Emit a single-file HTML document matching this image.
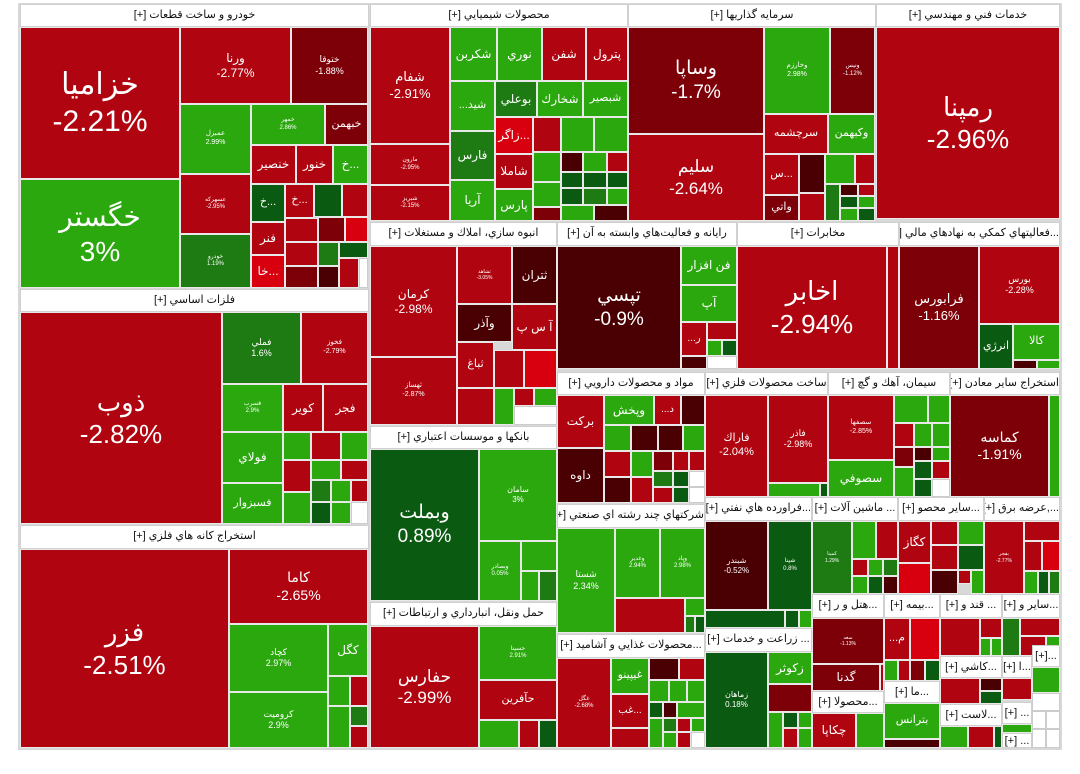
<!DOCTYPE html>
<html><head><meta charset="utf-8"><style>
body{margin:0;width:1080px;height:774px;background:#fff;position:relative;overflow:hidden;font-family:"Liberation Sans","DejaVu Sans",sans-serif}
.t{position:absolute;box-sizing:border-box;border:1px solid #e8e8e8;color:#fff;display:flex;flex-direction:column;align-items:center;justify-content:center;text-align:center;overflow:hidden;line-height:1.25;white-space:nowrap}
.h{position:absolute;box-sizing:border-box;background:#fff;border:1px solid #d0d0d0;color:#111;font-size:11px;text-align:center;line-height:20px;overflow:hidden;white-space:nowrap;direction:rtl}
.R{background:#b00510}.D{background:#7d0009}.V{background:#4a0003}.B{background:#d8000f}
.G{background:#2ca80f}.E{background:#1e7a12}.F{background:#0b5a12}.W{background:#fff;border-color:#ccc}
</style></head><body>
<div style="position:absolute;left:18px;top:3px;width:1044px;height:747px;background:#d8d8d8"></div>

<!-- خودرو -->
<div class="h" style="left:20px;top:4px;width:349px;height:23px">خودرو و ساخت قطعات [+]</div>
<div class="t R" style="left:20px;top:27px;width:160px;height:152px;font-size:30px"><div>خزاميا</div><div>-2.21%</div></div>
<div class="t G" style="left:20px;top:179px;width:160px;height:109px;font-size:28px"><div>خگستر</div><div>3%</div></div>
<div class="t R" style="left:180px;top:27px;width:111px;height:77px;font-size:12px"><div>ورنا</div><div>-2.77%</div></div>
<div class="t D" style="left:291px;top:27px;width:77px;height:77px;font-size:9px"><div>ختوقا</div><div>-1.88%</div></div>
<div class="t G" style="left:180px;top:104px;width:71px;height:70px;font-size:7px"><div>عمبزل</div><div>2.99%</div></div>
<div class="t G" style="left:251px;top:104px;width:74px;height:41px;font-size:6px"><div>خمهر</div><div>2.86%</div></div>
<div class="t D" style="left:325px;top:104px;width:43px;height:41px;font-size:11px">خبهمن</div>
<div class="t R" style="left:251px;top:145px;width:45px;height:39px;font-size:12px">خنصير</div>
<div class="t R" style="left:296px;top:145px;width:37px;height:39px;font-size:12px">خنور</div>
<div class="t G" style="left:333px;top:145px;width:35px;height:39px;font-size:12px">خ...</div>
<div class="t R" style="left:180px;top:174px;width:71px;height:60px;font-size:6px"><div>عسهرکه</div><div>-2.95%</div></div>
<div class="t E" style="left:180px;top:234px;width:71px;height:54px;font-size:6px"><div>خودرو</div><div>1.19%</div></div>
<div class="t F" style="left:251px;top:184px;width:34px;height:38px;font-size:11px">خ...</div>
<div class="t R" style="left:285px;top:184px;width:29px;height:34px;font-size:11px">خ...</div>
<div class="t F" style="left:314px;top:184px;width:28px;height:33px"></div>
<div class="t R" style="left:342px;top:184px;width:26px;height:33px"></div>
<div class="t R" style="left:251px;top:222px;width:34px;height:33px;font-size:12px">فنر</div>
<div class="t B" style="left:251px;top:255px;width:34px;height:33px;font-size:12px">خا...</div>
<div class="t R" style="left:285px;top:218px;width:33px;height:24px"></div>
<div class="t D" style="left:318px;top:217px;width:27px;height:25px"></div>
<div class="t B" style="left:345px;top:217px;width:23px;height:25px"></div>
<div class="t R" style="left:285px;top:242px;width:33px;height:24px"></div>
<div class="t D" style="left:285px;top:266px;width:33px;height:22px"></div>
<div class="t E" style="left:318px;top:242px;width:21px;height:24px"></div>
<div class="t F" style="left:339px;top:242px;width:29px;height:16px"></div>
<div class="t V" style="left:318px;top:266px;width:21px;height:22px"></div>
<div class="t R" style="left:339px;top:258px;width:20px;height:30px"></div>
<div class="t W" style="left:359px;top:258px;width:9px;height:30px"></div>

<!-- شيميايي -->
<div class="h" style="left:370px;top:4px;width:258px;height:23px">محصولات شيميايي [+]</div>
<div class="t R" style="left:370px;top:27px;width:80px;height:117px;font-size:13px"><div>شفام</div><div>-2.91%</div></div>
<div class="t R" style="left:370px;top:144px;width:80px;height:41px;font-size:6px"><div>مارون</div><div>-2.95%</div></div>
<div class="t R" style="left:370px;top:185px;width:80px;height:36px;font-size:6px"><div>شبريز</div><div>-2.15%</div></div>
<div class="t G" style="left:450px;top:27px;width:47px;height:54px;font-size:12px">شکربن</div>
<div class="t G" style="left:497px;top:27px;width:45px;height:54px;font-size:12px">نوري</div>
<div class="t R" style="left:542px;top:27px;width:44px;height:54px;font-size:12px">شفن</div>
<div class="t R" style="left:586px;top:27px;width:42px;height:54px;font-size:12px">پترول</div>
<div class="t G" style="left:450px;top:81px;width:45px;height:50px;font-size:11px">...شيد</div>
<div class="t E" style="left:495px;top:81px;width:42px;height:36px;font-size:12px">بوعلي</div>
<div class="t G" style="left:537px;top:81px;width:46px;height:36px;font-size:12px">شخارك</div>
<div class="t G" style="left:583px;top:81px;width:45px;height:36px;font-size:11px">شبصير</div>
<div class="t E" style="left:450px;top:131px;width:45px;height:49px;font-size:12px">فارس</div>
<div class="t G" style="left:450px;top:180px;width:45px;height:41px;font-size:12px">آريا</div>
<div class="t B" style="left:495px;top:117px;width:38px;height:37px;font-size:12px">زاگر...</div>
<div class="t R" style="left:495px;top:154px;width:38px;height:35px;font-size:12px">شاملا</div>
<div class="t G" style="left:495px;top:189px;width:38px;height:32px;font-size:12px">پارس</div>
<div class="t R" style="left:533px;top:117px;width:28px;height:35px"></div>
<div class="t G" style="left:561px;top:117px;width:33px;height:35px"></div>
<div class="t G" style="left:594px;top:117px;width:34px;height:35px"></div>
<div class="t G" style="left:533px;top:152px;width:28px;height:30px"></div>
<div class="t V" style="left:561px;top:152px;width:22px;height:20px"></div>
<div class="t G" style="left:583px;top:152px;width:24px;height:20px"></div>
<div class="t R" style="left:607px;top:152px;width:21px;height:20px"></div>
<div class="t F" style="left:561px;top:172px;width:22px;height:16px"></div>
<div class="t F" style="left:583px;top:172px;width:24px;height:16px"></div>
<div class="t F" style="left:607px;top:172px;width:21px;height:16px"></div>
<div class="t G" style="left:533px;top:182px;width:28px;height:25px"></div>
<div class="t D" style="left:533px;top:207px;width:28px;height:14px"></div>
<div class="t F" style="left:561px;top:188px;width:22px;height:17px"></div>
<div class="t E" style="left:583px;top:188px;width:24px;height:17px"></div>
<div class="t G" style="left:607px;top:188px;width:21px;height:17px"></div>
<div class="t G" style="left:561px;top:205px;width:33px;height:16px"></div>
<div class="t V" style="left:594px;top:205px;width:34px;height:16px"></div>

<!-- سرمايه -->
<div class="h" style="left:628px;top:4px;width:248px;height:23px">سرمايه گذاريها [+]</div>
<div class="t D" style="left:628px;top:27px;width:136px;height:107px;font-size:19px"><div>وساپا</div><div>-1.7%</div></div>
<div class="t R" style="left:628px;top:134px;width:136px;height:87px;font-size:17px"><div>سليم</div><div>-2.64%</div></div>
<div class="t G" style="left:764px;top:27px;width:66px;height:87px;font-size:7px"><div>وخارزم</div><div>2.98%</div></div>
<div class="t D" style="left:830px;top:27px;width:45px;height:87px;font-size:6px"><div>ونيس</div><div>-1.12%</div></div>
<div class="t R" style="left:764px;top:114px;width:64px;height:40px;font-size:11px">سرچشمه</div>
<div class="t G" style="left:828px;top:114px;width:47px;height:40px;font-size:11px">وكبهمن</div>
<div class="t R" style="left:764px;top:154px;width:35px;height:41px;font-size:11px">س...</div>
<div class="t D" style="left:764px;top:195px;width:35px;height:26px;font-size:11px">واتي</div>
<div class="t V" style="left:799px;top:154px;width:26px;height:39px"></div>
<div class="t R" style="left:799px;top:193px;width:26px;height:28px"></div>
<div class="t G" style="left:825px;top:154px;width:30px;height:30px"></div>
<div class="t R" style="left:855px;top:154px;width:20px;height:30px"></div>
<div class="t E" style="left:825px;top:184px;width:15px;height:37px"></div>
<div class="t V" style="left:840px;top:184px;width:18px;height:12px"></div>
<div class="t R" style="left:858px;top:184px;width:17px;height:12px"></div>
<div class="t F" style="left:840px;top:196px;width:18px;height:12px"></div>
<div class="t G" style="left:858px;top:196px;width:17px;height:12px"></div>
<div class="t G" style="left:840px;top:208px;width:18px;height:13px"></div>
<div class="t F" style="left:858px;top:208px;width:17px;height:13px"></div>

<!-- خدمات فني -->
<div class="h" style="left:876px;top:4px;width:184px;height:23px">خدمات فني و مهندسي [+]</div>
<div class="t R" style="left:876px;top:27px;width:184px;height:192px;font-size:26px"><div>رمپنا</div><div>-2.96%</div></div>

<!-- فلزات اساسي -->
<div class="h" style="left:20px;top:289px;width:349px;height:23px">فلزات اساسي [+]</div>
<div class="t R" style="left:20px;top:312px;width:202px;height:212px;font-size:26px"><div>ذوب</div><div>-2.82%</div></div>
<div class="t E" style="left:222px;top:312px;width:79px;height:72px;font-size:9px"><div>فملي</div><div>1.6%</div></div>
<div class="t R" style="left:301px;top:312px;width:67px;height:72px;font-size:7px"><div>فخوز</div><div>-2.79%</div></div>
<div class="t G" style="left:222px;top:384px;width:61px;height:48px;font-size:6px"><div>فسرب</div><div>2.9%</div></div>
<div class="t R" style="left:283px;top:384px;width:40px;height:48px;font-size:12px">كوير</div>
<div class="t R" style="left:323px;top:384px;width:45px;height:48px;font-size:12px">فجر</div>
<div class="t G" style="left:222px;top:432px;width:61px;height:51px;font-size:12px">فولاي</div>
<div class="t G" style="left:222px;top:483px;width:61px;height:41px;font-size:11px">فسبزوار</div>
<div class="t G" style="left:283px;top:432px;width:28px;height:28px"></div>
<div class="t R" style="left:311px;top:432px;width:30px;height:28px"></div>
<div class="t G" style="left:341px;top:432px;width:27px;height:28px"></div>
<div class="t R" style="left:283px;top:460px;width:28px;height:32px"></div>
<div class="t G" style="left:311px;top:460px;width:30px;height:20px"></div>
<div class="t R" style="left:341px;top:460px;width:27px;height:20px"></div>
<div class="t G" style="left:283px;top:492px;width:28px;height:32px"></div>
<div class="t E" style="left:311px;top:480px;width:20px;height:22px"></div>
<div class="t G" style="left:331px;top:480px;width:20px;height:22px"></div>
<div class="t R" style="left:351px;top:480px;width:17px;height:22px"></div>
<div class="t F" style="left:311px;top:502px;width:20px;height:22px"></div>
<div class="t G" style="left:331px;top:502px;width:20px;height:22px"></div>
<div class="t W" style="left:351px;top:502px;width:17px;height:22px"></div>

<!-- استخراج کانه -->
<div class="h" style="left:20px;top:525px;width:349px;height:24px">استخراج كانه هاي فلزي [+]</div>
<div class="t R" style="left:20px;top:549px;width:209px;height:199px;font-size:26px"><div>فزر</div><div>-2.51%</div></div>
<div class="t R" style="left:229px;top:549px;width:139px;height:75px;font-size:14px"><div>كاما</div><div>-2.65%</div></div>
<div class="t G" style="left:229px;top:624px;width:99px;height:68px;font-size:9px"><div>كچاد</div><div>2.97%</div></div>
<div class="t G" style="left:229px;top:692px;width:99px;height:56px;font-size:9px"><div>كروميت</div><div>2.9%</div></div>
<div class="t G" style="left:328px;top:624px;width:40px;height:52px;font-size:12px">كگل</div>
<div class="t G" style="left:328px;top:676px;width:22px;height:30px"></div>
<div class="t R" style="left:350px;top:676px;width:18px;height:30px"></div>
<div class="t G" style="left:328px;top:706px;width:22px;height:42px"></div>
<div class="t E" style="left:350px;top:706px;width:18px;height:20px"></div>
<div class="t R" style="left:350px;top:726px;width:18px;height:22px"></div>

<!-- انبوه سازي -->
<div class="h" style="left:370px;top:222px;width:187px;height:24px">انبوه سازي، املاك و مستغلات [+]</div>
<div class="t R" style="left:370px;top:246px;width:87px;height:111px;font-size:12px"><div>كرمان</div><div>-2.98%</div></div>
<div class="t R" style="left:370px;top:357px;width:87px;height:68px;font-size:7px"><div>ثهساز</div><div>-2.87%</div></div>
<div class="t R" style="left:457px;top:246px;width:55px;height:58px;font-size:5px"><div>ثشاهد</div><div>-3.05%</div></div>
<div class="t V" style="left:512px;top:246px;width:45px;height:58px;font-size:12px">ثتران</div>
<div class="t V" style="left:457px;top:304px;width:55px;height:38px;font-size:12px">وآذر</div>
<div class="t R" style="left:512px;top:304px;width:45px;height:46px;font-size:12px">آ س پ</div>
<div class="t R" style="left:457px;top:342px;width:37px;height:46px;font-size:11px">ثباغ</div>
<div class="t R" style="left:494px;top:350px;width:30px;height:38px"></div>
<div class="t B" style="left:524px;top:350px;width:33px;height:38px"></div>
<div class="t R" style="left:457px;top:388px;width:37px;height:37px"></div>
<div class="t G" style="left:494px;top:388px;width:20px;height:37px"></div>
<div class="t R" style="left:514px;top:388px;width:20px;height:18px"></div>
<div class="t G" style="left:534px;top:388px;width:23px;height:18px"></div>
<div class="t W" style="left:514px;top:406px;width:43px;height:19px"></div>

<!-- رايانه -->
<div class="h" style="left:557px;top:222px;width:180px;height:24px">رايانه و فعاليت‌هاي وابسته به آن [+]</div>
<div class="t V" style="left:557px;top:246px;width:124px;height:123px;font-size:19px"><div>تپسي</div><div>-0.9%</div></div>
<div class="t G" style="left:681px;top:246px;width:56px;height:39px;font-size:12px">فن افزار</div>
<div class="t G" style="left:681px;top:285px;width:56px;height:37px;font-size:12px">آپ</div>
<div class="t R" style="left:681px;top:322px;width:26px;height:34px;font-size:10px">...ر</div>
<div class="t R" style="left:707px;top:322px;width:30px;height:18px"></div>
<div class="t G" style="left:707px;top:340px;width:15px;height:16px"></div>
<div class="t F" style="left:722px;top:340px;width:15px;height:16px"></div>
<div class="t V" style="left:681px;top:356px;width:26px;height:13px"></div>
<div class="t W" style="left:707px;top:356px;width:30px;height:13px"></div>

<!-- مخابرات -->
<div class="h" style="left:737px;top:222px;width:162px;height:24px">مخابرات [+]</div>
<div class="t R" style="left:737px;top:246px;width:150px;height:123px;font-size:26px"><div>اخابر</div><div>-2.94%</div></div>
<div class="t R" style="left:887px;top:246px;width:12px;height:123px"></div>

<!-- فعاليتهاي کمکي -->
<div class="h" style="left:899px;top:222px;width:161px;height:24px">...فعاليتهاي كمكي به نهادهاي مالي [+]</div>
<div class="t D" style="left:899px;top:246px;width:80px;height:123px;font-size:13px"><div>فرابورس</div><div>-1.16%</div></div>
<div class="t R" style="left:979px;top:246px;width:81px;height:78px;font-size:9px"><div>بورس</div><div>-2.28%</div></div>
<div class="t F" style="left:979px;top:324px;width:34px;height:45px;font-size:11px">انرژي</div>
<div class="t G" style="left:1013px;top:324px;width:47px;height:36px;font-size:11px">كالا</div>
<div class="t V" style="left:1013px;top:360px;width:24px;height:9px"></div>
<div class="t G" style="left:1037px;top:360px;width:23px;height:9px"></div>

<!-- بانکها -->
<div class="h" style="left:370px;top:426px;width:187px;height:23px">بانكها و موسسات اعتباري [+]</div>
<div class="t F" style="left:370px;top:449px;width:109px;height:152px;font-size:19px"><div>وبملت</div><div>0.89%</div></div>
<div class="t G" style="left:479px;top:449px;width:78px;height:92px;font-size:8px"><div>سامان</div><div>3%</div></div>
<div class="t G" style="left:479px;top:541px;width:42px;height:60px;font-size:6px"><div>وبصادر</div><div>0.05%</div></div>
<div class="t G" style="left:521px;top:541px;width:36px;height:30px"></div>
<div class="t G" style="left:521px;top:571px;width:18px;height:30px"></div>
<div class="t E" style="left:539px;top:571px;width:18px;height:30px"></div>

<!-- حمل ونقل -->
<div class="h" style="left:370px;top:602px;width:187px;height:24px">حمل ونقل، انبارداري و ارتباطات [+]</div>
<div class="t R" style="left:370px;top:626px;width:109px;height:122px;font-size:17px"><div>حفارس</div><div>-2.99%</div></div>
<div class="t G" style="left:479px;top:626px;width:78px;height:54px;font-size:6px"><div>حسينا</div><div>2.91%</div></div>
<div class="t R" style="left:479px;top:680px;width:78px;height:40px;font-size:11px">حآفرين</div>
<div class="t G" style="left:479px;top:720px;width:40px;height:28px"></div>
<div class="t R" style="left:519px;top:720px;width:20px;height:28px"></div>
<div class="t F" style="left:539px;top:720px;width:18px;height:28px"></div>

<!-- دارويي -->
<div class="h" style="left:557px;top:372px;width:148px;height:23px">مواد و محصولات دارويي [+]</div>
<div class="t R" style="left:557px;top:395px;width:47px;height:53px;font-size:12px">بركت</div>
<div class="t V" style="left:557px;top:448px;width:47px;height:55px;font-size:12px">داوه</div>
<div class="t G" style="left:604px;top:395px;width:50px;height:30px;font-size:12px">وپخش</div>
<div class="t R" style="left:654px;top:395px;width:27px;height:30px;font-size:10px">...د</div>
<div class="t V" style="left:681px;top:395px;width:24px;height:30px"></div>
<div class="t G" style="left:604px;top:425px;width:27px;height:26px"></div>
<div class="t V" style="left:631px;top:425px;width:27px;height:26px"></div>
<div class="t V" style="left:658px;top:425px;width:25px;height:26px"></div>
<div class="t G" style="left:683px;top:425px;width:22px;height:26px"></div>
<div class="t R" style="left:604px;top:451px;width:27px;height:26px"></div>
<div class="t V" style="left:604px;top:477px;width:27px;height:26px"></div>
<div class="t G" style="left:631px;top:451px;width:22px;height:26px"></div>
<div class="t R" style="left:631px;top:477px;width:22px;height:26px"></div>
<div class="t D" style="left:653px;top:451px;width:20px;height:20px"></div>
<div class="t R" style="left:673px;top:451px;width:16px;height:20px"></div>
<div class="t R" style="left:689px;top:451px;width:16px;height:20px"></div>
<div class="t E" style="left:653px;top:471px;width:20px;height:16px"></div>
<div class="t F" style="left:673px;top:471px;width:16px;height:16px"></div>
<div class="t W" style="left:689px;top:471px;width:16px;height:16px"></div>
<div class="t R" style="left:653px;top:487px;width:20px;height:16px"></div>
<div class="t F" style="left:673px;top:487px;width:16px;height:16px"></div>
<div class="t W" style="left:689px;top:487px;width:16px;height:16px"></div>

<!-- ساخت محصولات فلزي -->
<div class="h" style="left:705px;top:372px;width:123px;height:23px">ساخت محصولات فلزي [+]</div>
<div class="t R" style="left:705px;top:395px;width:63px;height:102px;font-size:11px"><div>فاراك</div><div>-2.04%</div></div>
<div class="t R" style="left:768px;top:395px;width:60px;height:88px;font-size:9px"><div>فاذر</div><div>-2.98%</div></div>
<div class="t G" style="left:768px;top:483px;width:52px;height:14px"></div>
<div class="t F" style="left:820px;top:483px;width:8px;height:14px"></div>

<!-- سيمان -->
<div class="h" style="left:828px;top:372px;width:122px;height:23px">سيمان، آهك و گچ [+]</div>
<div class="t R" style="left:828px;top:395px;width:66px;height:65px;font-size:7px"><div>سصفها</div><div>-2.85%</div></div>
<div class="t G" style="left:828px;top:460px;width:66px;height:37px;font-size:12px">سصوفي</div>
<div class="t G" style="left:894px;top:395px;width:34px;height:28px"></div>
<div class="t G" style="left:928px;top:395px;width:22px;height:28px"></div>
<div class="t R" style="left:894px;top:423px;width:20px;height:24px"></div>
<div class="t G" style="left:914px;top:423px;width:18px;height:24px"></div>
<div class="t G" style="left:932px;top:423px;width:18px;height:24px"></div>
<div class="t D" style="left:894px;top:447px;width:20px;height:20px"></div>
<div class="t V" style="left:914px;top:447px;width:18px;height:14px"></div>
<div class="t G" style="left:932px;top:447px;width:18px;height:14px"></div>
<div class="t G" style="left:894px;top:467px;width:20px;height:30px"></div>
<div class="t F" style="left:914px;top:461px;width:18px;height:18px"></div>
<div class="t R" style="left:932px;top:461px;width:18px;height:18px"></div>
<div class="t F" style="left:914px;top:479px;width:18px;height:18px"></div>
<div class="t W" style="left:932px;top:479px;width:18px;height:18px"></div>

<!-- استخراج ساير معادن -->
<div class="h" style="left:950px;top:372px;width:110px;height:23px">استخراج ساير معادن [+]</div>
<div class="t D" style="left:950px;top:395px;width:99px;height:102px;font-size:14px"><div>كماسه</div><div>-1.91%</div></div>
<div class="t G" style="left:1049px;top:395px;width:11px;height:102px"></div>

<!-- چند رشته -->
<div class="h" style="left:557px;top:504px;width:148px;height:24px">شركتهاي چند رشته اي صنعتي [+]</div>
<div class="t G" style="left:557px;top:528px;width:58px;height:105px;font-size:9px"><div>شستا</div><div>2.34%</div></div>
<div class="t G" style="left:615px;top:528px;width:45px;height:70px;font-size:6px"><div>وغدير</div><div>2.94%</div></div>
<div class="t G" style="left:660px;top:528px;width:45px;height:70px;font-size:6px"><div>وپاد</div><div>2.98%</div></div>
<div class="t R" style="left:615px;top:598px;width:70px;height:35px"></div>
<div class="t G" style="left:685px;top:598px;width:20px;height:18px"></div>
<div class="t E" style="left:685px;top:616px;width:10px;height:17px"></div>
<div class="t F" style="left:695px;top:616px;width:10px;height:17px"></div>

<!-- غذايي -->
<div class="h" style="left:557px;top:634px;width:148px;height:24px">...محصولات غذايي و آشاميد [+]</div>
<div class="t R" style="left:557px;top:658px;width:54px;height:90px;font-size:6px"><div>غگل</div><div>-2.68%</div></div>
<div class="t G" style="left:611px;top:658px;width:38px;height:36px;font-size:11px">غيپينو</div>
<div class="t R" style="left:611px;top:694px;width:38px;height:34px;font-size:10px">غب...</div>
<div class="t R" style="left:611px;top:728px;width:38px;height:20px"></div>
<div class="t V" style="left:649px;top:658px;width:30px;height:22px"></div>
<div class="t R" style="left:679px;top:658px;width:26px;height:22px"></div>
<div class="t G" style="left:649px;top:680px;width:20px;height:22px"></div>
<div class="t G" style="left:669px;top:680px;width:18px;height:22px"></div>
<div class="t G" style="left:687px;top:680px;width:18px;height:22px"></div>
<div class="t F" style="left:649px;top:702px;width:14px;height:16px"></div>
<div class="t V" style="left:663px;top:702px;width:14px;height:16px"></div>
<div class="t G" style="left:677px;top:702px;width:28px;height:16px"></div>
<div class="t G" style="left:649px;top:718px;width:14px;height:30px"></div>
<div class="t E" style="left:663px;top:718px;width:14px;height:14px"></div>
<div class="t R" style="left:677px;top:718px;width:14px;height:14px"></div>
<div class="t G" style="left:691px;top:718px;width:14px;height:14px"></div>
<div class="t G" style="left:663px;top:732px;width:14px;height:16px"></div>
<div class="t R" style="left:677px;top:732px;width:14px;height:16px"></div>
<div class="t W" style="left:691px;top:732px;width:14px;height:16px"></div>

<!-- فراورده -->
<div class="h" style="left:705px;top:497px;width:107px;height:24px">...فراورده هاي نفتي [+]</div>
<div class="t V" style="left:705px;top:521px;width:63px;height:89px;font-size:8px"><div>شبندر</div><div>-0.52%</div></div>
<div class="t F" style="left:768px;top:521px;width:44px;height:89px;font-size:6px"><div>شپنا</div><div>0.8%</div></div>
<div class="t F" style="left:705px;top:610px;width:80px;height:18px"></div>
<div class="t F" style="left:785px;top:610px;width:14px;height:18px"></div>
<div class="t G" style="left:799px;top:610px;width:13px;height:18px"></div>

<!-- زراعت -->
<div class="h" style="left:705px;top:628px;width:107px;height:24px">... زراعت و خدمات [+]</div>
<div class="t F" style="left:705px;top:652px;width:63px;height:96px;font-size:8px"><div>زماهان</div><div>0.18%</div></div>
<div class="t G" style="left:768px;top:652px;width:44px;height:32px;font-size:12px">زكوثر</div>
<div class="t D" style="left:768px;top:684px;width:44px;height:28px"></div>
<div class="t G" style="left:768px;top:712px;width:15px;height:36px"></div>
<div class="t F" style="left:783px;top:712px;width:15px;height:16px"></div>
<div class="t G" style="left:798px;top:712px;width:14px;height:16px"></div>
<div class="t R" style="left:783px;top:728px;width:15px;height:20px"></div>
<div class="t G" style="left:798px;top:728px;width:14px;height:20px"></div>

<!-- ماشين آلات -->
<div class="h" style="left:812px;top:497px;width:86px;height:24px">... ماشين آلات [+]</div>
<div class="t E" style="left:812px;top:521px;width:40px;height:73px;font-size:5px"><div>كمينا</div><div>1.29%</div></div>
<div class="t G" style="left:852px;top:521px;width:24px;height:38px"></div>
<div class="t R" style="left:876px;top:521px;width:22px;height:38px"></div>
<div class="t R" style="left:852px;top:559px;width:16px;height:17px"></div>
<div class="t G" style="left:868px;top:559px;width:15px;height:17px"></div>
<div class="t E" style="left:883px;top:559px;width:15px;height:17px"></div>
<div class="t G" style="left:852px;top:576px;width:16px;height:18px"></div>
<div class="t F" style="left:868px;top:576px;width:15px;height:18px"></div>
<div class="t V" style="left:883px;top:576px;width:15px;height:18px"></div>

<!-- ساير محصو -->
<div class="h" style="left:898px;top:497px;width:86px;height:24px">...ساير محصو [+]</div>
<div class="t R" style="left:898px;top:521px;width:33px;height:42px;font-size:12px">كگاز</div>
<div class="t B" style="left:898px;top:563px;width:33px;height:31px"></div>
<div class="t R" style="left:931px;top:521px;width:27px;height:24px"></div>
<div class="t G" style="left:958px;top:521px;width:26px;height:24px"></div>
<div class="t R" style="left:931px;top:545px;width:27px;height:25px"></div>
<div class="t F" style="left:958px;top:545px;width:26px;height:25px"></div>
<div class="t V" style="left:931px;top:570px;width:27px;height:24px"></div>
<div class="t R" style="left:958px;top:570px;width:13px;height:14px"></div>
<div class="t G" style="left:971px;top:570px;width:13px;height:24px"></div>

<!-- عرضه برق -->
<div class="h" style="left:984px;top:497px;width:76px;height:24px">...,عرضه برق [+]</div>
<div class="t R" style="left:984px;top:521px;width:40px;height:73px;font-size:5px"><div>بفجر</div><div>-2.77%</div></div>
<div class="t R" style="left:1024px;top:521px;width:36px;height:20px"></div>
<div class="t R" style="left:1024px;top:541px;width:18px;height:30px"></div>
<div class="t B" style="left:1042px;top:541px;width:18px;height:30px"></div>
<div class="t G" style="left:1024px;top:571px;width:14px;height:23px"></div>
<div class="t F" style="left:1038px;top:571px;width:11px;height:23px"></div>
<div class="t E" style="left:1049px;top:571px;width:11px;height:23px"></div>

<!-- هتل -->
<div class="h" style="left:812px;top:594px;width:72px;height:24px">...هتل و ر [+]</div>
<div class="t D" style="left:812px;top:618px;width:72px;height:46px;font-size:5px"><div>سغه</div><div>-1.13%</div></div>
<div class="t D" style="left:812px;top:664px;width:68px;height:27px;font-size:12px">گدنا</div>
<div class="t R" style="left:880px;top:664px;width:4px;height:27px"></div>
<div class="h" style="left:812px;top:691px;width:72px;height:22px">...محصولا [+]</div>
<div class="t R" style="left:812px;top:713px;width:44px;height:35px;font-size:12px">چكاپا</div>
<div class="t G" style="left:856px;top:713px;width:28px;height:35px"></div>

<!-- بيمه -->
<div class="h" style="left:884px;top:594px;width:56px;height:24px">...بيمه [+]</div>
<div class="t R" style="left:884px;top:618px;width:26px;height:42px;font-size:11px">...م</div>
<div class="t B" style="left:910px;top:618px;width:30px;height:42px"></div>
<div class="t G" style="left:884px;top:660px;width:14px;height:21px"></div>
<div class="t R" style="left:898px;top:660px;width:12px;height:21px"></div>
<div class="t D" style="left:910px;top:660px;width:15px;height:21px"></div>
<div class="t F" style="left:925px;top:660px;width:15px;height:21px"></div>
<div class="h" style="left:884px;top:681px;width:56px;height:22px">...ما [+]</div>
<div class="t G" style="left:884px;top:703px;width:56px;height:36px;font-size:11px">بترانس</div>
<div class="t V" style="left:884px;top:739px;width:56px;height:9px"></div>

<!-- قند -->
<div class="h" style="left:940px;top:594px;width:62px;height:24px">... قند و [+]</div>
<div class="t R" style="left:940px;top:618px;width:40px;height:38px"></div>
<div class="t R" style="left:980px;top:618px;width:22px;height:20px"></div>
<div class="t G" style="left:980px;top:638px;width:11px;height:18px"></div>
<div class="t G" style="left:991px;top:638px;width:11px;height:18px"></div>
<div class="h" style="left:1002px;top:594px;width:58px;height:24px">...ساير و [+]</div>
<div class="t E" style="left:1002px;top:618px;width:18px;height:38px"></div>
<div class="t R" style="left:1020px;top:618px;width:40px;height:18px"></div>
<div class="t R" style="left:1020px;top:636px;width:26px;height:20px"></div>
<div class="t G" style="left:1046px;top:636px;width:14px;height:20px"></div>

<div class="h" style="left:940px;top:656px;width:62px;height:22px">...كاشي [+]</div>
<div class="t R" style="left:940px;top:678px;width:40px;height:26px"></div>
<div class="t V" style="left:980px;top:678px;width:22px;height:13px"></div>
<div class="t F" style="left:980px;top:691px;width:22px;height:13px"></div>
<div class="h" style="left:1002px;top:656px;width:30px;height:22px">...ا [+]</div>
<div class="t R" style="left:1002px;top:678px;width:30px;height:22px"></div>
<div class="h" style="left:1032px;top:645px;width:28px;height:22px">...[+]</div>
<div class="t G" style="left:1032px;top:667px;width:28px;height:26px"></div>

<div class="h" style="left:940px;top:704px;width:62px;height:22px">...لاست [+]</div>
<div class="t G" style="left:940px;top:726px;width:28px;height:22px"></div>
<div class="t R" style="left:968px;top:726px;width:26px;height:22px"></div>
<div class="t F" style="left:994px;top:726px;width:8px;height:22px"></div>
<div class="h" style="left:1002px;top:702px;width:30px;height:22px">... [+]</div>
<div class="t G" style="left:1002px;top:724px;width:30px;height:9px"></div>
<div class="h" style="left:1002px;top:733px;width:30px;height:15px;line-height:14px">... [+]</div>
<div class="t W" style="left:1032px;top:693px;width:28px;height:18px"></div>
<div class="t W" style="left:1032px;top:711px;width:14px;height:18px"></div>
<div class="t W" style="left:1046px;top:711px;width:14px;height:18px"></div>
<div class="t W" style="left:1032px;top:729px;width:14px;height:19px"></div>
<div class="t W" style="left:1046px;top:729px;width:14px;height:19px"></div>
</body></html>
